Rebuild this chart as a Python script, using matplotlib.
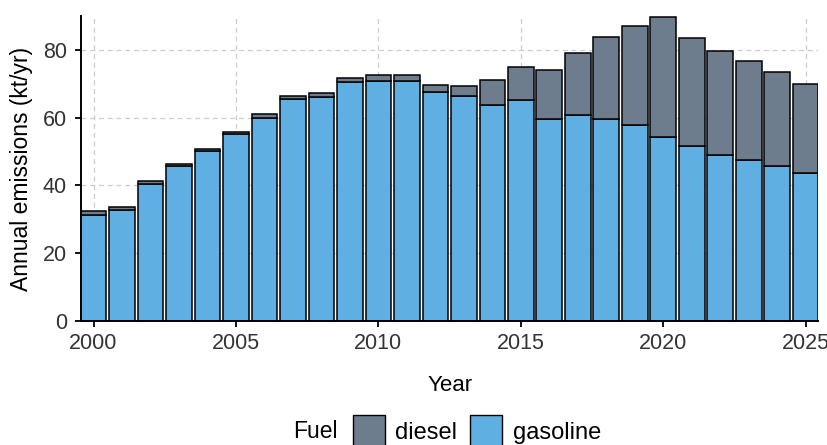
import matplotlib

matplotlib.use("Agg")
import matplotlib.pyplot as plt
from matplotlib.patches import Patch

plt.rcParams["font.family"] = ["Liberation Sans", "DejaVu Sans"]

years = list(range(2000, 2026))
gasoline = [31.3, 32.8, 40.3, 45.8, 50.2, 55.3, 60.0, 65.4, 66.2, 70.4,
            70.8, 70.8, 67.6, 66.3, 63.7, 65.1, 59.7, 60.9, 59.6, 57.9,
            54.2, 51.6, 48.9, 47.5, 45.8, 43.6]
total = [32.5, 33.7, 41.3, 46.3, 50.7, 55.7, 61.0, 66.4, 67.2, 71.8,
         72.7, 72.7, 69.6, 69.2, 71.1, 75.0, 74.0, 79.0, 83.9, 87.1,
         89.7, 83.4, 79.8, 76.7, 73.6, 70.0]
diesel = [t - g for t, g in zip(total, gasoline)]

fuels = ["diesel", "gasoline"]
colors = {"diesel": "#6d7d8d", "gasoline": "#5fafe3"}

fig = plt.figure(figsize=(8.28, 4.45), dpi=100)
ax = fig.add_axes([0.0975, 0.2787, 0.891, 0.6853])

ax.bar(years, gasoline, width=0.9, color=colors["gasoline"],
       edgecolor="black", linewidth=1.1, zorder=2)
ax.bar(years, diesel, bottom=gasoline, width=0.9, color=colors["diesel"],
       edgecolor="black", linewidth=1.1, zorder=2)

ax.set_xlim(1999.55, 2025.45)
ax.set_ylim(0, 90)
ax.set_xticks([2000, 2005, 2010, 2015, 2020, 2025])
ax.set_yticks([0, 20, 40, 60, 80])
ax.grid(True, color="#bdbdbd", linestyle=(0, (4, 3)), linewidth=0.9,
        alpha=0.75)
for line in ax.get_xgridlines() + ax.get_ygridlines():
    line.set_zorder(3)

for side in ["top", "right"]:
    ax.spines[side].set_visible(False)
for side in ["left", "bottom"]:
    ax.spines[side].set_linewidth(1.4)
    ax.spines[side].set_zorder(4)
ax.tick_params(axis="both", length=4, width=1.3, labelsize=15.5,
               labelcolor="#333333")
ax.tick_params(axis="x", pad=5)
ax.tick_params(axis="y", pad=6)

ax.set_xlabel("Year", fontsize=16, labelpad=15)
ax.set_ylabel("Annual emissions (kt/yr)", fontsize=16.5, labelpad=7)

handles = [Patch(facecolor=colors[f], edgecolor="black", linewidth=1.0)
           for f in fuels]
fig.text(0.354, 0.031, "Fuel", fontsize=16.5, ha="left", va="center")
fig.legend(handles, fuels, loc="center left", bbox_to_anchor=(0.426, 0.03),
           ncol=2, frameon=False, fontsize=17, handlelength=1.35,
           handleheight=1.75, handletextpad=0.45, columnspacing=0.55,
           borderpad=0, borderaxespad=0)

fig.savefig("out.png", dpi=100)
